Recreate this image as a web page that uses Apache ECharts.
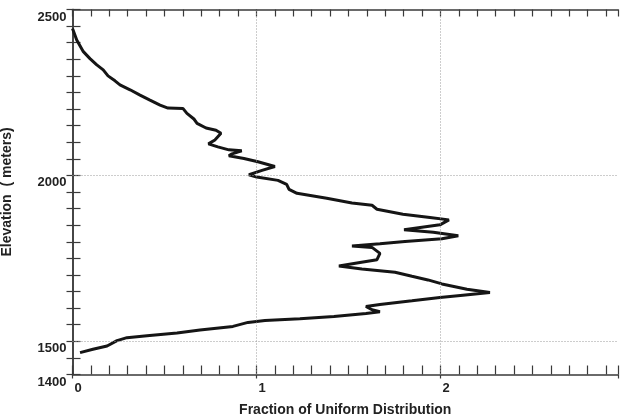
<!DOCTYPE html>
<html>
<head>
<meta charset="utf-8">
<script src="https://cdn.jsdelivr.net/npm/echarts@6/dist/echarts.min.js"></script>
<style>
  html, body { margin: 0; padding: 0; background: #ffffff; }
  #chart { width: 623px; height: 418px; }
</style>
</head>
<body>
<div id="chart"></div>
<script>
// Hypsometric profile: fraction of a uniform distribution at each elevation
var elevation = [
  2443, 2408, 2373, 2352, 2333, 2318, 2300, 2285, 2273, 2258,
  2242, 2227, 2212, 2203, 2202, 2187, 2170, 2157, 2143, 2136,
  2127, 2107, 2095, 2086, 2077, 2074, 2065, 2059, 2051, 2041,
  2027, 2015, 2002, 1995, 1985, 1973, 1958, 1946, 1931, 1917,
  1910, 1898, 1883, 1873, 1866, 1851, 1836, 1829, 1818, 1809,
  1801, 1794, 1787, 1783, 1765, 1746, 1736, 1727, 1718, 1708,
  1696, 1685, 1673, 1657, 1647, 1639, 1632, 1622, 1611, 1605,
  1595, 1589, 1584, 1575, 1568, 1563, 1557, 1545, 1534, 1525,
  1517, 1511, 1502, 1486, 1476, 1466
];
var fraction = [
  0.00, 0.023, 0.059, 0.095, 0.132, 0.167, 0.193, 0.231, 0.258, 0.313,
  0.367, 0.421, 0.476, 0.519, 0.600, 0.622, 0.660, 0.677, 0.726, 0.780,
  0.807, 0.774, 0.739, 0.790, 0.850, 0.920, 0.867, 0.850, 0.932, 1.008,
  1.100, 1.030, 0.959, 1.001, 1.117, 1.164, 1.177, 1.220, 1.382, 1.519,
  1.628, 1.655, 1.796, 1.943, 2.046, 1.997, 1.802, 1.961, 2.097, 2.008,
  1.807, 1.671, 1.519, 1.628, 1.671, 1.655, 1.546, 1.448, 1.573, 1.753,
  1.845, 1.932, 2.008, 2.144, 2.269, 2.122, 1.997, 1.845, 1.671, 1.595,
  1.628, 1.671, 1.595, 1.421, 1.236, 1.046, 0.954, 0.872, 0.693, 0.568,
  0.405, 0.296, 0.242, 0.188, 0.111, 0.041
];
var xLabels = [0, 1, 2];
var yLabels = [1400, 1500, 2000, 2500];
var xGrid = [1, 2];
var yGrid = [1500, 2000];

var X_MIN = 0, X_MAX = 2.965, Y_MIN = 1400, Y_MAX = 2500;
var FONT = '"Liberation Sans", Arial, sans-serif';
var FRAME = '#3a3a3a';

function isListed(list, v) {
  for (var i = 0; i < list.length; i++) {
    if (Math.abs(list[i] - v) < 1e-6) return true;
  }
  return false;
}

var points = elevation.map(function (e, i) { return [fraction[i], e]; });

var gridMarks = xGrid.map(function (v) { return { xAxis: v }; })
  .concat(yGrid.map(function (v) { return { yAxis: v }; }));

var chart = echarts.init(document.getElementById('chart'), null, { renderer: 'canvas' });
chart.setOption({
  backgroundColor: '#ffffff',
  animation: false,
  grid: { left: 72.5, right: 5, top: 9.5, bottom: 43.5, containLabel: false, outerBoundsMode: 'none' },
  xAxis: [
    {
      type: 'value', position: 'bottom', min: X_MIN, max: X_MAX, interval: 0.1,
      name: 'Fraction of Uniform Distribution', nameLocation: 'middle', nameGap: 29,
      nameTextStyle: { fontFamily: FONT, fontWeight: 'bold', fontSize: 14, color: '#222' },
      axisLine: { show: true, lineStyle: { color: FRAME, width: 1.5 } },
      axisTick: { show: true, inside: true, length: 9, lineStyle: { color: FRAME, width: 1.2 } },
      axisLabel: {
        show: true, margin: 7, align: 'left', padding: [0, 0, 0, 2],
        fontFamily: FONT, fontWeight: 'bold', fontSize: 13, color: '#222',
        formatter: function (v) { return isListed(xLabels, v) ? String(Math.round(v)) : ''; }
      },
      splitLine: { show: false }
    },
    {
      type: 'value', position: 'top', min: X_MIN, max: X_MAX, interval: 0.1,
      axisLine: { show: true, lineStyle: { color: FRAME, width: 1.5 } },
      axisTick: { show: true, inside: true, length: 7, lineStyle: { color: FRAME, width: 1.2 } },
      axisLabel: { show: false },
      splitLine: { show: false }
    },
    {
      type: 'value', position: 'bottom', min: X_MIN, max: X_MAX, interval: 1,
      axisLine: { show: false },
      axisTick: { show: true, inside: false, length: 4, lineStyle: { color: FRAME, width: 1.2 } },
      axisLabel: { show: false },
      splitLine: { show: false }
    }
  ],
  yAxis: [
    {
      type: 'value', position: 'left', min: Y_MIN, max: Y_MAX, interval: 50,
      name: 'Elevation  ( meters)', nameLocation: 'middle', nameGap: 58, nameRotate: 90,
      nameTextStyle: { fontFamily: FONT, fontWeight: 'bold', fontSize: 14, color: '#222' },
      axisLine: { show: true, lineStyle: { color: FRAME, width: 1.5 } },
      axisTick: { show: true, inside: true, length: 8, lineStyle: { color: FRAME, width: 1.2 } },
      axisLabel: {
        show: true, margin: 6, verticalAlign: 'top', padding: [1, 0, 0, 0],
        fontFamily: FONT, fontWeight: 'bold', fontSize: 13, color: '#222',
        formatter: function (v) { return isListed(yLabels, v) ? String(Math.round(v)) : ''; }
      },
      splitLine: { show: false }
    },
    {
      type: 'value', position: 'right', min: Y_MIN, max: Y_MAX, interval: 50,
      axisLine: { show: true, lineStyle: { color: FRAME, width: 1.5 } },
      axisTick: { show: true, inside: true, length: 6, lineStyle: { color: FRAME, width: 1.2 } },
      axisLabel: { show: false },
      splitLine: { show: false }
    }
  ],
  series: [
    {
      type: 'line', xAxisIndex: 0, yAxisIndex: 0,
      data: points,
      showSymbol: false, smooth: false,
      lineStyle: { color: '#151515', width: 3 },
      markLine: {
        silent: true, symbol: 'none', animation: false,
        label: { show: false },
        lineStyle: { color: '#9a9a9a', width: 1, type: [1, 2] },
        data: gridMarks
      },
      z: 3
    }
  ]
});
</script>
</body>
</html>
